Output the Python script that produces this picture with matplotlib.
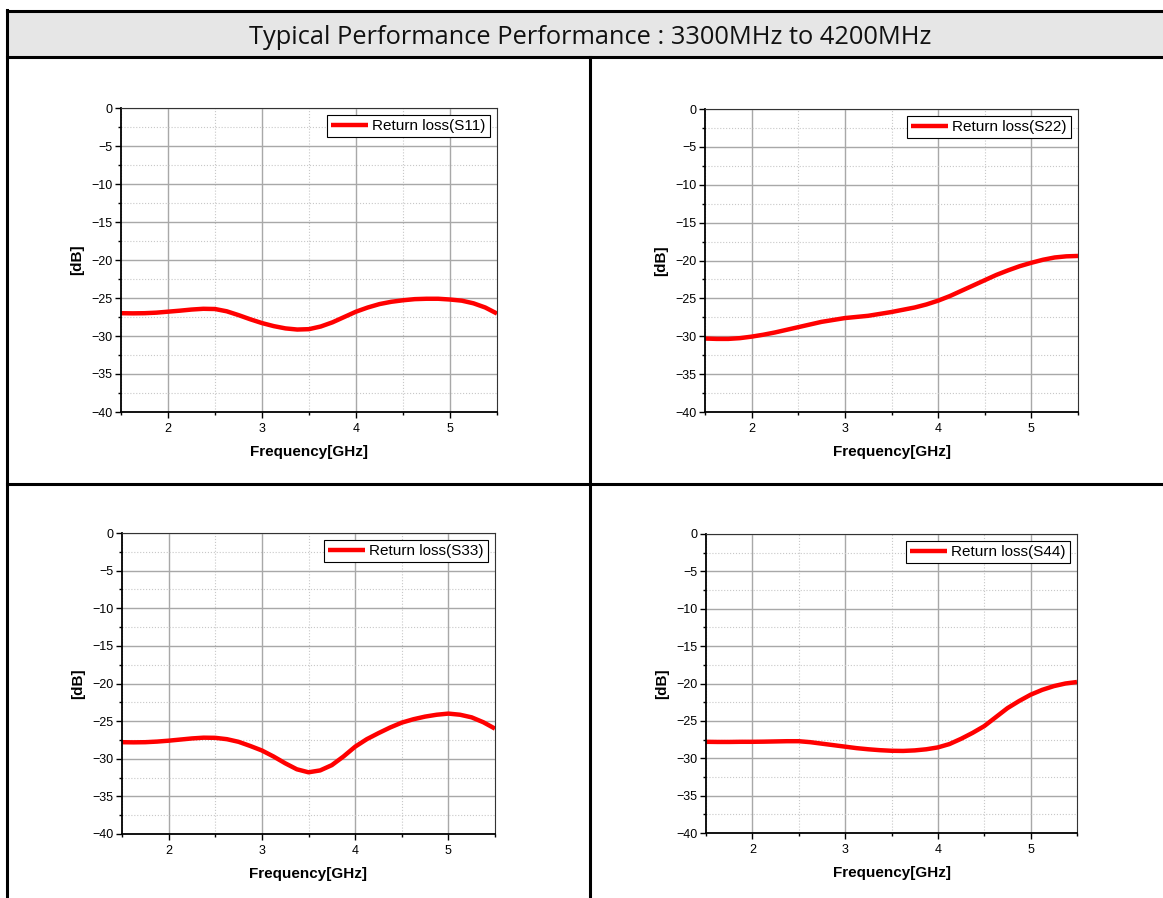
import matplotlib
matplotlib.use("Agg")
import matplotlib.pyplot as plt
from matplotlib.lines import Line2D
from matplotlib.patches import Rectangle
from matplotlib.ticker import MultipleLocator

W, H = 1163, 898

# data (GHz / dB), every 0.125 GHz
freq = [1.5, 1.625, 1.75, 1.875, 2.0, 2.125, 2.25, 2.375, 2.5, 2.625, 2.75,
        2.875, 3.0, 3.125, 3.25, 3.375, 3.5, 3.625, 3.75, 3.875, 4.0, 4.125,
        4.25, 4.375, 4.5, 4.625, 4.75, 4.875, 5.0, 5.125, 5.25, 5.375, 5.5]
s11 = [-27.0, -27.02, -27.0, -26.93, -26.8, -26.67, -26.52, -26.42, -26.45,
       -26.75, -27.25, -27.8, -28.3, -28.7, -29.0, -29.15, -29.1, -28.75,
       -28.2, -27.5, -26.8, -26.25, -25.8, -25.5, -25.3, -25.15, -25.1,
       -25.1, -25.2, -25.35, -25.7, -26.25, -27.05]
s22 = [-30.3, -30.35, -30.35, -30.25, -30.05, -29.8, -29.5, -29.15, -28.8,
       -28.45, -28.1, -27.85, -27.6, -27.45, -27.3, -27.05, -26.8, -26.5,
       -26.2, -25.8, -25.3, -24.7, -24.0, -23.3, -22.6, -21.9, -21.3,
       -20.75, -20.3, -19.9, -19.6, -19.45, -19.4]
s33 = [-27.8, -27.82, -27.8, -27.72, -27.6, -27.45, -27.3, -27.2, -27.22,
       -27.4, -27.75, -28.3, -28.9, -29.7, -30.6, -31.4, -31.8, -31.55,
       -30.85, -29.7, -28.4, -27.4, -26.6, -25.85, -25.2, -24.75, -24.4,
       -24.15, -24.0, -24.15, -24.5, -25.15, -26.0]
s44 = [-27.8, -27.82, -27.82, -27.8, -27.8, -27.78, -27.75, -27.72, -27.72,
       -27.85, -28.05, -28.25, -28.45, -28.65, -28.8, -28.92, -29.0, -29.02,
       -28.95, -28.8, -28.55, -28.1, -27.4, -26.6, -25.7, -24.5, -23.3,
       -22.35, -21.5, -20.85, -20.35, -20.0, -19.8]

series = [s11, s22, s33, s44]
names = ["Return loss(S11)", "Return loss(S22)", "Return loss(S33)", "Return loss(S44)"]

title = "Typical Performance Performance : 3300MHz to 4200MHz"

# axes boxes in pixels: left, top, right, bottom
boxes = [(121, 108, 497, 412),
         (705, 109, 1078, 412),
         (122, 533, 495, 834),
         (706, 534, 1077, 833)]

plt.rcParams['font.family'] = ['Liberation Sans', 'DejaVu Sans']

fig = plt.figure(figsize=(W / 100, H / 100), dpi=100)


def fx(x): return x / W
def fy(y): return 1 - y / H


# table frame and header
fig.add_artist(Rectangle((fx(7), fy(57)), fx(W - 7), (57 - 10) / H,
                         transform=fig.transFigure, facecolor='#e6e6e6',
                         edgecolor='none'))
lk = dict(transform=fig.transFigure, color='black', lw=2.2)
fig.add_artist(Line2D([fx(7), 1], [fy(10.5), fy(10.5)], **lk))
fig.add_artist(Line2D([fx(7), 1], [fy(57), fy(57)], **lk))
fig.add_artist(Line2D([fx(7), 1], [fy(484), fy(484)], **lk))
fig.add_artist(Line2D([fx(7), fx(7)], [fy(10), 0], **lk))
fig.add_artist(Line2D([fx(590), fx(590)], [fy(57), 0], **lk))
fig.text(fx(590), fy(37), title, ha='center', va='center', fontsize=18.3,
         family=['Open Sans', 'DejaVu Sans'], color='#111111')

for (l, t, r, b), ys, name in zip(boxes, series, names):
    ax = fig.add_axes([fx(l), fy(b), fx(r - l), (b - t) / H])
    ax.plot(freq, ys, color='#ff0000', lw=3.2, label=name,
            solid_joinstyle='round', solid_capstyle='butt')
    ax.set_xlim(1.5, 5.5)
    ax.set_ylim(-40, 0)
    ax.xaxis.set_major_locator(MultipleLocator(1))
    ax.xaxis.set_minor_locator(MultipleLocator(0.5))
    ax.yaxis.set_major_locator(MultipleLocator(5))
    ax.yaxis.set_minor_locator(MultipleLocator(2.5))
    ax.grid(which='major', color='#a8a8a8', lw=1.0)
    ax.grid(which='minor', color='#c8c8c8', lw=0.8, ls=':')
    ax.set_axisbelow(True)
    for side in ['left', 'bottom']:
        ax.spines[side].set_linewidth(1.3)
        ax.spines[side].set_color('black')
    for side in ['top', 'right']:
        ax.spines[side].set_linewidth(0.8)
        ax.spines[side].set_color('#333333')
    ax.tick_params(which='major', length=4, width=1, labelsize=9)
    ax.tick_params(axis='x', which='major', pad=4)
    ax.tick_params(axis='y', which='major', pad=2)
    ax.tick_params(which='minor', length=2.5, width=1)
    ax.set_xlabel('Frequency[GHz]', fontsize=11, fontweight='bold', labelpad=7)
    ax.set_ylabel('[dB]', fontsize=11, fontweight='bold', labelpad=5)
    ax.legend(loc='upper right', fancybox=False, edgecolor='black', fontsize=11,
              handlelength=2.4, borderaxespad=0.45, borderpad=0.28,
              handletextpad=0.3, framealpha=1).get_frame().set_linewidth(0.8)

plt.savefig('out.png', dpi=100)
